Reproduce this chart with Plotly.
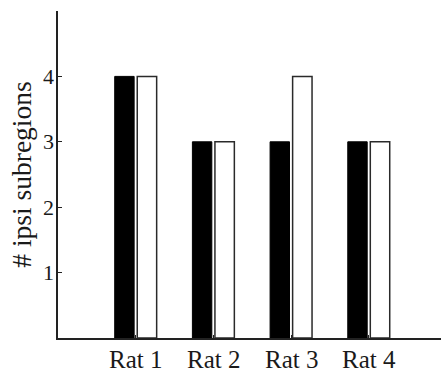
import plotly.graph_objects as go

# Number of ipsilateral subregions per rat, two conditions
rats = ["Rat 1", "Rat 2", "Rat 3", "Rat 4"]
positions = [1, 2, 3, 4]
filled_counts = [4, 3, 3, 3]
open_counts = [4, 3, 4, 3]

y_ticks = [1, 2, 3, 4, 5]
y_tick_text = ["1", "2", "3", "4", ""]

font_family = "Liberation Serif"
ink = "#1a1a1a"

fig = go.Figure()
fig.add_trace(go.Bar(
    x=positions, y=filled_counts, width=0.25, offset=-0.27,
    marker=dict(color="black", line=dict(color="black", width=1)),
    showlegend=False,
))
fig.add_trace(go.Bar(
    x=positions, y=open_counts, width=0.25, offset=0.02,
    marker=dict(color="white", line=dict(color="#2a2a2a", width=1.5)),
    showlegend=False,
))

# y tick labels set close to the axis line
for v, t in zip(y_ticks, y_tick_text):
    if t:
        fig.add_annotation(x=0, xref="paper", y=v, yref="y", text=t,
                           showarrow=False, xanchor="right", yanchor="middle",
                           xshift=-2, font=dict(size=22, family=font_family, color=ink))

# category labels under the baseline
for p, name in zip(positions, rats):
    fig.add_annotation(x=p, xref="x", y=0, yref="paper", text=name,
                       showarrow=False, xanchor="center", yanchor="top",
                       yshift=-7, borderpad=0,
                       font=dict(size=25, family=font_family, color=ink))

fig.update_layout(
    width=441, height=373,
    margin=dict(l=58, r=0, t=11, b=35, autoexpand=False),
    paper_bgcolor="white", plot_bgcolor="white",
    barmode="overlay",
    font=dict(family=font_family, color=ink),
)
fig.update_xaxes(
    range=[0, 4.93], automargin=False,
    tickvals=positions, showticklabels=False,
    showline=True, linecolor="#222", linewidth=1.5,
    ticks="inside", ticklen=3, tickcolor="#222",
    showgrid=False, zeroline=False,
)
fig.update_yaxes(
    range=[0, 5], automargin=False,
    tickvals=y_ticks, showticklabels=False,
    showline=True, linecolor="#222", linewidth=1.5,
    ticks="inside", ticklen=4, tickcolor="#222",
    showgrid=False, zeroline=False,
    title=dict(text="# ipsi subregions", standoff=17,
               font=dict(size=27.5, family=font_family, color=ink)),
)

fig.write_html("out.html")
